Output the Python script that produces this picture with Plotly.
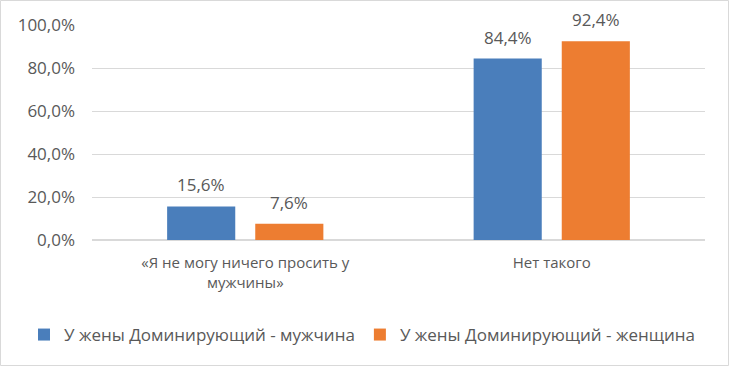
import plotly.graph_objects as go

categories = ["«Я не могу ничего просить у<br>мужчины»", "Нет такого"]
series_names = ["У жены Доминирующий - мужчина", "У жены Доминирующий - женщина"]
male_values = [15.6, 84.4]
female_values = [7.6, 92.4]
colors = ["#4A7EBB", "#ED7D31"]
tick_values = [0, 20, 40, 60, 80, 100]
tick_labels = ["0,0%", "20,0%", "40,0%", "60,0%", "80,0%", "100,0%"]

def fmt(v):
    return f"{v:.1f}%".replace(".", ",")

font_family = "Open Sans, sans-serif"
text_color = "#595959"
W, H = 730, 367
L, R, T, B = 92, 25, 25, 127
pw, ph = W - L - R, H - T - B
bargap, bargroupgap = 0.425, 0.227
slot = pw / len(categories) * (1 - bargap) / 2

fig = go.Figure()
series = [male_values, female_values]
for i, (name, vals, col) in enumerate(zip(series_names, series, colors)):
    fig.add_trace(go.Bar(
        x=categories, y=vals, name=name,
        marker=dict(color=col, line=dict(width=0)),
    ))
    shift = (i - 0.5) * slot
    for c, v in zip(categories, vals):
        fig.add_annotation(x=c, y=v, xref="x", yref="y", text=fmt(v), showarrow=False,
                           xshift=shift, yanchor="bottom", yshift=8,
                           font=dict(size=17, color=text_color, family=font_family))

fig.update_layout(
    width=W, height=H,
    margin=dict(l=L, r=R, t=T, b=B, autoexpand=False),
    paper_bgcolor="white", plot_bgcolor="white",
    barmode="group", bargap=bargap, bargroupgap=bargroupgap,
    font=dict(family=font_family, size=17, color=text_color),
    legend=dict(orientation="h", x=(24 - L) / pw, xanchor="left",
                y=-(335 - (H - B)) / ph, yanchor="middle",
                font=dict(size=17, color=text_color), itemwidth=30, traceorder="normal"),
    xaxis=dict(showgrid=False, showline=False, ticks="", ticklabelstandoff=12,
               automargin=False, tickfont=dict(size=15, color=text_color)),
    yaxis=dict(range=[0, 100], tickvals=tick_values, ticktext=tick_labels,
               showgrid=True, gridcolor="#D9D9D9", gridwidth=1, zeroline=True,
               zerolinecolor="#D9D9D9", showline=False, ticks="", ticklabelstandoff=16,
               automargin=False, tickfont=dict(size=17, color=text_color)),
    shapes=[dict(type="rect", xref="paper", yref="paper",
                 x0=-(L - 0.5) / pw, x1=1 + (R - 1.5) / pw,
                 y0=-(B - 1.5) / ph, y1=1 + (T - 0.5) / ph,
                 line=dict(color="#D9D9D9", width=1))],
)

fig.write_html("out.html", config={"displayModeBar": False},
               post_script="document.body.style.margin='0';document.body.style.overflow='hidden';")
